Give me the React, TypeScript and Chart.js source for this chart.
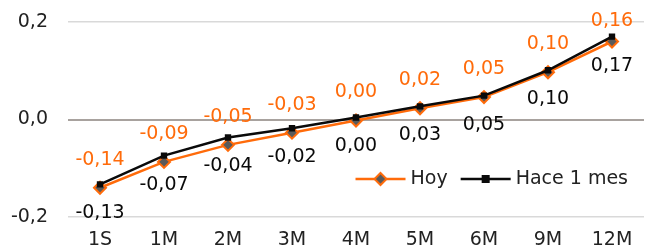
import React, { useEffect, useRef } from "react";
import { Chart, registerables } from "chart.js";

Chart.register(...registerables);

const categories = ["1S", "1M", "2M", "3M", "4M", "5M", "6M", "9M", "12M"];
const hoy = [-0.14, -0.087, -0.052, -0.027, -0.002, 0.023, 0.046, 0.097, 0.16];
const hace1mes = [-0.133, -0.074, -0.037, -0.018, 0.004, 0.027, 0.049, 0.101, 0.17];
const yTicks = [-0.2, 0, 0.2];

const ORANGE = "#FF6B0A";
const BLACK = "#0A0A0A";
const FONT = "DejaVu Sans";
const FS = 19;

const fmt = (v: number, d: number) => {
  let s = v.toFixed(d);
  if (parseFloat(s) === 0) s = (0).toFixed(d);
  return s.replace(".", ",");
};

const labelsPlugin = {
  id: "valueLabels",
  afterDatasetsDraw(chart: any) {
    const ctx = chart.ctx;
    ctx.save();
    ctx.font = `${FS}px "${FONT}"`;
    ctx.textAlign = "center";
    ctx.textBaseline = "middle";
    chart.data.datasets.forEach((ds: any, i: number) => {
      const meta = chart.getDatasetMeta(i);
      meta.data.forEach((pt: any, j: number) => {
        const v = ds.data[j];
        const above = i === 0;
        let y = above ? pt.y - 28 : pt.y + 29;
        if (above) y = Math.max(y, 21);
        ctx.fillStyle = above ? ORANGE : BLACK;
        ctx.fillText(fmt(v, 2), pt.x, y);
      });
    });
    ctx.restore();
  },
};

const legendPlugin = {
  id: "customLegend",
  afterDraw(chart: any) {
    const ctx = chart.ctx;
    ctx.save();
    ctx.font = `${FS}px "${FONT}"`;
    ctx.textBaseline = "middle";
    ctx.textAlign = "left";
    const y = 179;
    const right = chart.chartArea.right - 16;
    const t2 = "Hace 1 mes";
    const t1 = "Hoy";
    const w2 = ctx.measureText(t2).width;
    const w1 = ctx.measureText(t1).width;
    const lineLen = 50;
    const gap = 5;
    const x2Text = right - w2;
    const x2Line = x2Text - gap - lineLen;
    const x1Text = x2Line - 13 - w1;
    const x1Line = x1Text - gap - lineLen;
    // Hoy
    ctx.strokeStyle = ORANGE;
    ctx.lineWidth = 2.5;
    ctx.beginPath();
    ctx.moveTo(x1Line, y);
    ctx.lineTo(x1Line + lineLen, y);
    ctx.stroke();
    const cx1 = x1Line + lineLen / 2;
    ctx.beginPath();
    ctx.moveTo(cx1, y - 6);
    ctx.lineTo(cx1 + 6, y);
    ctx.lineTo(cx1, y + 6);
    ctx.lineTo(cx1 - 6, y);
    ctx.closePath();
    ctx.fillStyle = "#5a5a5a";
    ctx.fill();
    ctx.lineWidth = 2;
    ctx.stroke();
    ctx.fillStyle = "#222";
    ctx.fillText(t1, x1Text, y);
    // Hace 1 mes
    ctx.strokeStyle = BLACK;
    ctx.lineWidth = 2.5;
    ctx.beginPath();
    ctx.moveTo(x2Line, y);
    ctx.lineTo(x2Line + lineLen, y);
    ctx.stroke();
    const cx2 = x2Line + lineLen / 2;
    ctx.fillStyle = BLACK;
    ctx.fillRect(cx2 - 4, y - 4, 8, 8);
    ctx.fillStyle = "#222";
    ctx.fillText(t2, x2Text, y);
    ctx.restore();
  },
};

export default function App() {
  const ref = useRef<HTMLCanvasElement>(null);
  useEffect(() => {
    document.body.style.overflow = "hidden";
    const chart = new Chart(ref.current!, {
      type: "line",
      data: {
        labels: categories,
        datasets: [
          {
            label: "Hoy",
            data: hoy,
            borderColor: ORANGE,
            backgroundColor: "#5a5a5a",
            borderWidth: 2.5,
            pointStyle: "rectRot",
            pointRadius: 6,
            pointBorderColor: ORANGE,
            pointBackgroundColor: "#5a5a5a",
            pointBorderWidth: 2,
            order: 2,
          },
          {
            label: "Hace 1 mes",
            data: hace1mes,
            borderColor: BLACK,
            backgroundColor: BLACK,
            borderWidth: 2.5,
            pointStyle: "rect",
            pointRadius: 4.5,
            pointBorderColor: BLACK,
            pointBackgroundColor: BLACK,
            pointBorderWidth: 0,
            order: 1,
          },
        ],
      },
      options: {
        animation: false,
        responsive: false,
        layout: { padding: { top: 22, right: 0, left: 0, bottom: 0 } },
        plugins: { legend: { display: false }, tooltip: { enabled: false } },
        scales: {
          x: {
            offset: true,
            grid: { display: false, drawTicks: false, offset: true },
            border: { display: false },
            ticks: {
              font: { family: FONT, size: FS },
              color: "#222",
              padding: 12,
              maxRotation: 0,
            },
            afterFit(s: any) {
              s.height = 31;
            },
          },
          y: {
            min: -0.2,
            max: 0.2,
            afterBuildTicks(s: any) {
              s.ticks = yTicks.map((v) => ({ value: v }));
            },
            grid: {
              drawTicks: false,
              color: (c: any) => (c.tick && c.tick.value === 0 ? "#A8A29E" : "#D9D9D9"),
              lineWidth: (c: any) => (c.tick && c.tick.value === 0 ? 2 : 1.5),
            },
            border: { display: false },
            ticks: {
              font: { family: FONT, size: FS },
              color: "#222",
              padding: 20,
              callback: (v: any) => fmt(Number(v), 1),
            },
            afterFit(s: any) {
              s.width = 68;
              s.paddingTop = 0;
              s.paddingBottom = 0;
            },
          },
        },
      },
      plugins: [labelsPlugin, legendPlugin],
    });
    return () => chart.destroy();
  }, []);
  return (
    <div style={{ position: "fixed", left: 0, top: 0, width: 652, height: 248 }}>
      <canvas ref={ref} width={652} height={248} style={{ width: 652, height: 248 }} />
    </div>
  );
}
